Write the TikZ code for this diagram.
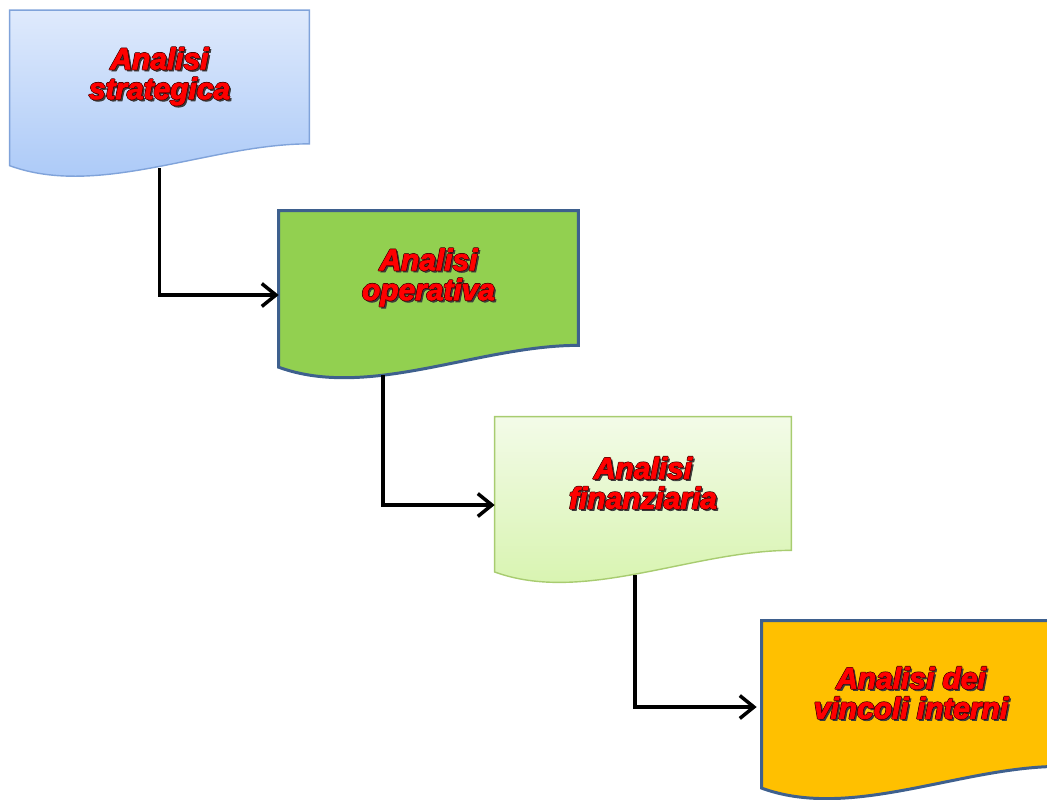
\documentclass[tikz,border=0pt]{standalone}
\usepackage{fontspec}
\usepackage{xcolor}
\usepackage{tikz}
\usetikzlibrary{positioning, calc, arrows.meta, backgrounds}
\newfontfamily\boxfont{Liberation Sans}[BoldItalicFeatures={FakeBold=2.5}]
\definecolor{stratTop}{RGB}{223,234,252}
\definecolor{stratBot}{RGB}{166,198,247}
\definecolor{stratLine}{RGB}{128,163,218}
\definecolor{operFill}{RGB}{146,208,80}
\definecolor{docLine}{RGB}{62,96,142}
\definecolor{finTop}{RGB}{243,251,232}
\definecolor{finBot}{RGB}{213,243,170}
\definecolor{finLine}{RGB}{168,204,112}
\definecolor{vincFill}{RGB}{255,192,0}
\definecolor{txtRed}{RGB}{255,0,0}
\definecolor{txtEdge}{RGB}{70,0,0}
\definecolor{txtShade}{RGB}{60,60,60}
\tikzset{
    docnode/.style={
        rectangle, minimum width=5.98cm, minimum height=2.66cm, inner sep=0pt,
        align=center, font=\boxfont\fontsize{17}{17}\selectfont\bfseries\itshape
    },
    bluedoc/.style={
        draw=stratLine, line width=0.8pt, top color=stratTop, bottom color=stratBot
    },
    greendoc/.style={
        draw=docLine, line width=1.7pt, fill=operFill
    },
    lightdoc/.style={
        draw=finLine, line width=0.8pt, top color=finTop, bottom color=finBot
    },
    orangedoc/.style={
        draw=docLine, line width=1.7pt, fill=vincFill
    },
    conn/.style={
        -{Straight Barb[length=8pt,width=13pt]}, line width=2pt, black
    }
}
% red text with dark edge and shadow
\newcommand{\redtxt}[1]{\leavevmode
    \rlap{\hspace{1.1pt}\raisebox{-1.1pt}{\color{txtShade}#1}}%
    \rlap{\hspace{-0.4pt}\color{txtEdge}#1}\rlap{\hspace{0.4pt}\color{txtEdge}#1}%
    \rlap{\raisebox{0.4pt}{\color{txtEdge}#1}}\rlap{\raisebox{-0.4pt}{\color{txtEdge}#1}}%
    {\color{txtRed}#1}}
% document shape behind a node: #1 node, #2 style, #3 width
\newcommand{\docshape}[3]{%
    \path[#2] (#1.north west) -- (#1.north east) -- (#1.south east)
        .. controls ($(#1.south west)!0.667!(#1.south east)$)
        and ($(#1.south west)!0.3!(#1.south east)+(0,-0.183*#3)$)
        .. ($(#1.south west)+(0,-0.073*#3)$) -- cycle;}

\begin{document}
\begin{tikzpicture}
    \useasboundingbox (0,0) rectangle (20.94,-15.98);

    \node[docnode] (strat) at (3.19,-1.54) {\redtxt{Analisi}\\\redtxt{strategica}};
    \node[docnode, minimum height=2.68cm] (oper) at (8.57,-5.56) {\redtxt{Analisi}\\\redtxt{operativa}};
    \node[docnode, minimum width=5.92cm] (fin) at (12.86,-9.67) {\redtxt{Analisi}\\\redtxt{finanziaria}};
    \node[docnode, minimum width=5.96cm, minimum height=2.9cm] (vinc) at (18.22,-13.87) {\redtxt{Analisi dei}\\\redtxt{vincoli interni}};

    \begin{scope}[on background layer]
        \docshape{strat}{bluedoc}{5.98}
        \docshape{oper}{greendoc}{5.98}
        \docshape{fin}{lightdoc}{5.92}
        \docshape{vinc}{orangedoc}{5.96}
    \end{scope}

    % frecce a gomito
    \draw[conn] ([yshift=-0.48cm]strat.south) |- ([yshift=-0.34cm]oper.west);
    \draw[conn] ([xshift=-0.91cm,yshift=-0.6cm]oper.south) |- ([yshift=-0.43cm]fin.west);
    \draw[conn] ([xshift=-0.16cm,yshift=-0.5cm]fin.south) |- ([xshift=-0.1cm,yshift=-0.27cm]vinc.west);
\end{tikzpicture}
\end{document}
